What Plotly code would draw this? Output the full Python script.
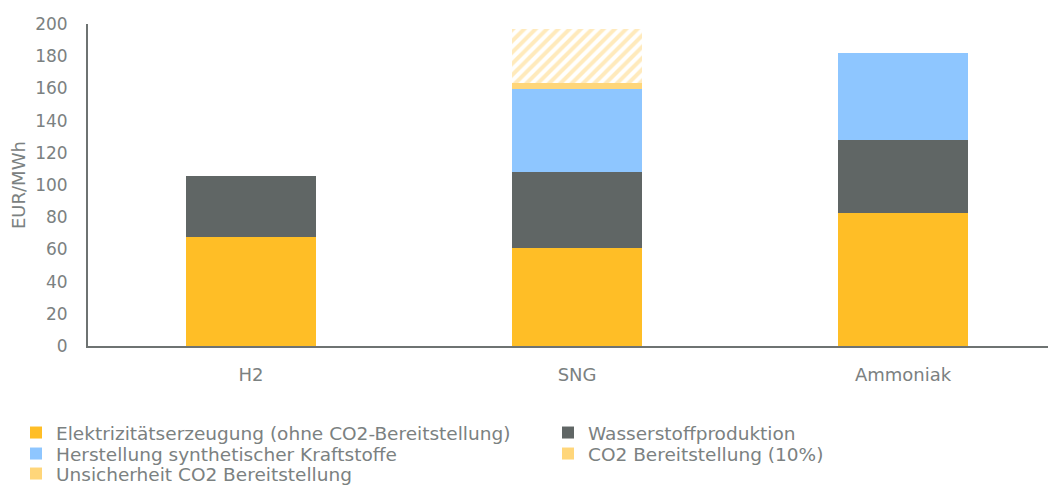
import plotly.graph_objects as go

categories = ["H2", "SNG", "Ammoniak"]
strom = [67.5, 61.0, 82.8]
wasserstoff = [38.3, 47.1, 45.2]
synthese = [0, 51.5, 54.2]
co2 = [0, 3.8, 0]
unsicherheit = [0, 33.5, 0]

names = [
    "Elektrizitätserzeugung (ohne CO2-Bereitstellung)",
    "Wasserstoffproduktion",
    "Herstellung synthetischer Kraftstoffe",
    "CO2 Bereitstellung (10%)",
    "Unsicherheit CO2 Bereitstellung",
]
colors = ["#FFBE26", "#606665", "#8EC6FF", "#FFD67A", "#FFD67A"]
series = [strom, wasserstoff, synthese, co2, unsicherheit]

FONT = "DejaVu Sans"
GREY = "#7B8181"
# page body adds an 8px margin, so the figure is drawn 8px smaller
W, H = 1048, 477
ML, MT, MB = 80, 16, 139
PW = W - ML
PH = H - MT - MB

# legend slot positions (pixel, figure coords), one legend per entry: (left, row-center)
legend_pos = [(8, 425), (540, 425), (8, 446), (540, 446), (8, 466)]

fig = go.Figure()
layout_legends = {}
for i, (n, c, v) in enumerate(zip(names, colors, series)):
    lid = "legend" if i == 0 else f"legend{i+1}"
    if i == 4:
        # hatched bar; legend shows a solid swatch as in the original
        fig.add_trace(go.Bar(
            x=categories, y=v, name=n, width=0.4, showlegend=False,
            marker=dict(color="white", line=dict(width=0),
                        pattern=dict(shape="/", fgcolor=c, bgcolor="white", size=8, solidity=0.5)),
        ))
        fig.add_trace(go.Bar(x=[categories[1]], y=[None], name=n, legend=lid, width=0.4,
                             hoverinfo="skip",
                             marker=dict(color=c, line=dict(width=0))))
    else:
        fig.add_trace(go.Bar(x=categories, y=v, name=n, width=0.4, legend=lid,
                             marker=dict(color=c, line=dict(width=0))))
    lx, ly = legend_pos[i]
    layout_legends[lid] = dict(
        xref="container", yref="container",
        x=lx / W, y=1 - ly / H, xanchor="left", yanchor="middle",
        orientation="v", bgcolor="rgba(0,0,0,0)",
        font=dict(family=FONT, size=18.5, color=GREY),
        itemclick=False,
    )

fig.add_annotation(
    text="EUR/MWh", textangle=-90, showarrow=False,
    xref="paper", yref="paper", x=(10 - ML) / PW, y=0.5,
    xanchor="center", yanchor="middle",
    font=dict(family=FONT, size=18, color=GREY),
)

fig.update_layout(
    barmode="stack",
    width=W, height=H,
    margin=dict(l=ML, r=0, t=MT, b=MB, pad=0, autoexpand=False),
    paper_bgcolor="white", plot_bgcolor="white",
    font=dict(family=FONT, color=GREY, size=16),
    showlegend=True,
    xaxis=dict(
        range=[-0.5, 2.469], showline=True, linecolor="#6E7372", linewidth=2,
        ticks="", showgrid=False, tickfont=dict(size=18, color=GREY),
        ticklabelstandoff=11,
    ),
    yaxis=dict(
        range=[0, 200], dtick=20, showline=True, linecolor="#6E7372", linewidth=2,
        ticks="", showgrid=False, zeroline=False,
        tickfont=dict(size=17, color=GREY), ticklabelstandoff=15,
    ),
    **layout_legends,
)

fig.write_html("out.html")
